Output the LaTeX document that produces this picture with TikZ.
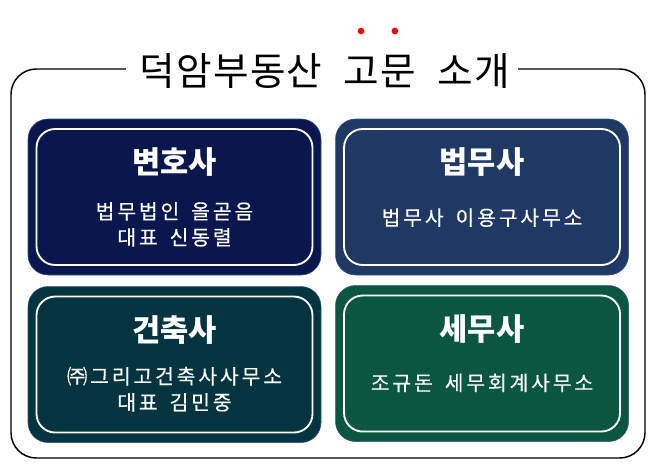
\documentclass[tikz,border=0pt]{standalone}
\usepackage{fontspec}
\setmainfont{Noto Sans CJK KR}
\newfontfamily\spacedfont[LetterSpace=14, WordSpace=1.6, FakeBold=0.4]{Noto Sans CJK KR}
\newfontfamily\titlefont[LetterSpace=3, WordSpace=2.2]{Noto Sans CJK KR}
\usetikzlibrary{positioning}
\definecolor{navyfill}{HTML}{0A174E}
\definecolor{bluefill}{HTML}{203864}
\definecolor{tealfill}{HTML}{033440}
\definecolor{greenfill}{HTML}{0A5640}
\definecolor{edgeblue}{HTML}{2F528F}
\tikzset{
framebox/.style={draw=black, line width=1.1pt, rounded corners=19pt, minimum width=475.5pt, minimum height=291.75pt, inner sep=0pt},
titletext/.style={font=\fontsize{29}{34}\selectfont\titlefont, inner sep=0pt},
titlegap/.style={fill=white, minimum width=294pt, minimum height=30pt, inner sep=0pt},
reddot/.style={circle, fill=red, minimum size=5pt, inner sep=0pt},
panelbox/.style={draw=edgeblue, line width=0.4pt, rounded corners=15pt, minimum width=219.75pt, minimum height=117pt, inner sep=0pt},
innerbox/.style={draw=white, line width=1.4pt, rounded corners=14pt, minimum width=207pt, minimum height=102pt, inner sep=0pt},
headtext/.style={text=white, font=\fontsize{23}{27}\selectfont\bfseries, inner sep=0pt},
bodytext/.style={text=white, align=center, font=\fontsize{15.3}{19.5}\selectfont\spacedfont, inner sep=0pt},
}
\begin{document}
\begin{tikzpicture}[x=0.75pt, y=-0.75pt]
    \useasboundingbox (0,0) rectangle (655,467);
    \node[framebox] (frame) at (328,263.5) {};
    \node[titlegap] (gap) at (321.5,69) {};
    \node[titletext] (title) at (325,71) {덕암부동산 고문 소개};
    \node[reddot] (dotgo) at (361,31) {};
    \node[reddot, right=20pt of dotgo] (dotmun) {};

    \node[panelbox, fill=navyfill] (lawyer) at (174.5,197) {};
    \node[panelbox, fill=bluefill, right=10.5pt of lawyer] (scrivener) {};
    \node[panelbox, fill=tealfill, below=8.25pt of lawyer] (architect) {};
    \node[panelbox, fill=greenfill, below=7.5pt of scrivener] (taxagent) {};

    \node[innerbox] (lawyerin) at (lawyer) {};
    \node[innerbox] (scrivenerin) at (scrivener) {};
    \node[innerbox] (architectin) at (architect) {};
    \node[innerbox] (taxagentin) at (taxagent) {};

    \node[headtext] (lawyerhead) at ([yshift=26pt]lawyer) {변호사};
    \node[headtext] (scrivenerhead) at ([yshift=26pt]scrivener) {법무사};
    \node[headtext] (architecthead) at ([yshift=26pt]architect) {건축사};
    \node[headtext] (taxagenthead) at ([yshift=26pt]taxagent) {세무사};

    \node[bodytext] (lawyerbody) at ([yshift=-20.5pt]lawyer) {법무법인 올곧음\\대표 신동렬};
    \node[bodytext] (scrivenerbody) at ([yshift=-15.5pt]scrivener) {법무사 이용구사무소};
    \node[bodytext] (architectbody) at ([yshift=-18.5pt]architect) {㈜그리고건축사사무소\\대표 김민중};
    \node[bodytext] (taxagentbody) at ([yshift=-14.5pt]taxagent) {조규돈 세무회계사무소};
\end{tikzpicture}
\end{document}
